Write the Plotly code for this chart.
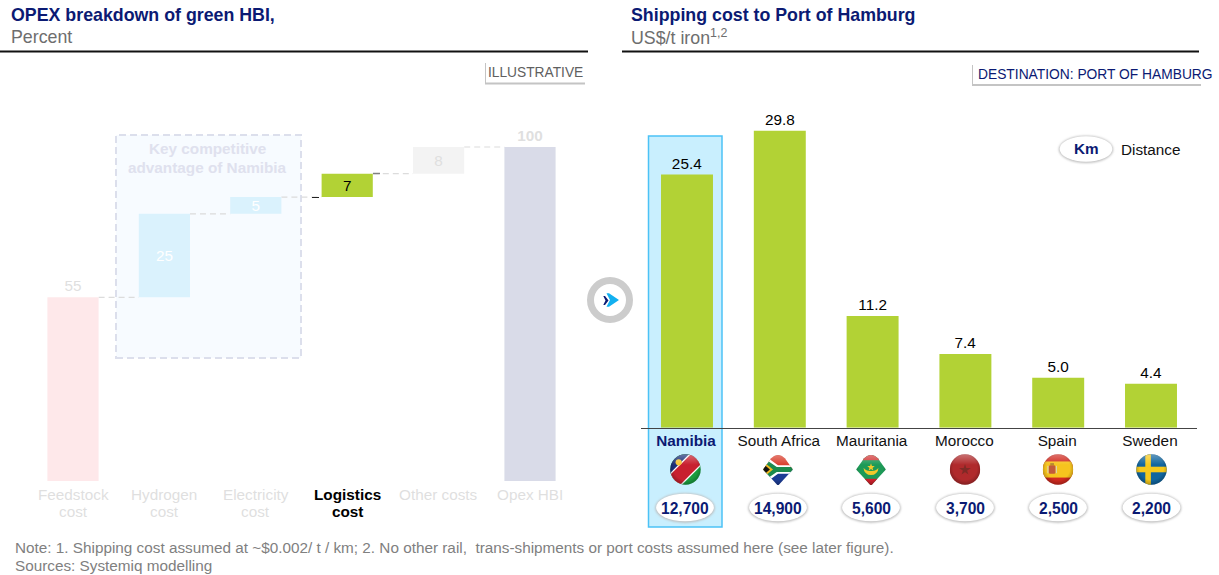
import base64
import plotly.graph_objects as go

W, H = 1219, 575
FONT = "Liberation Sans"
NAVY = "#0b1a73"
GREEN = "#b2d235"
FADED = "#dfdfdf"

# OPEX waterfall
opex_categories = ["Feedstock<br>cost", "Hydrogen<br>cost", "Electricity<br>cost",
                   "Logistics<br>cost", "Other costs", "Opex HBI"]
opex_values = [55, 25, 5, 7, 8, 100]
opex_colors = ["#fee8ea", "#daf2fd", "#daf2fd", GREEN, "#f3f3f3", "#d9dbe8"]

# Shipping cost bars
ship_countries = ["Namibia", "South Africa", "Mauritania", "Morocco", "Spain", "Sweden"]
ship_costs = [25.4, 29.8, 11.2, 7.4, 5.0, 4.4]
ship_distance = ["12,700", "14,900", "5,600", "3,700", "2,500", "2,200"]


def fx(p):
    return p / W


def fy(p):
    return 1 - p / H


def to_uri(svg):
    return "data:image/svg+xml;base64," + base64.b64encode(svg.encode()).decode()


GLOSS = """<defs>
<radialGradient id="g" cx="50%" cy="45%" r="55%">
<stop offset="70%" stop-color="#000" stop-opacity="0"/>
<stop offset="100%" stop-color="#000" stop-opacity=".28"/></radialGradient>
<linearGradient id="t" x1="0" y1="0" x2="0" y2="1">
<stop offset="0" stop-color="#fff" stop-opacity=".35"/>
<stop offset=".35" stop-color="#fff" stop-opacity="0"/></linearGradient>
<clipPath id="c">__CLIP__</clipPath></defs>"""
CIRCLE = '<circle cx="50" cy="50" r="49"/>'
DIAMOND = '<path d="M2 50 L28 14 Q50 -8 72 14 L98 50 L52 100 L48 100 Z"/>'


def flag(body, clip=CIRCLE):
    defs = GLOSS.replace("__CLIP__", clip)
    overlay = '<rect width="100" height="100" fill="url(#g)"/><rect width="100" height="100" fill="url(#t)"/>'
    return to_uri(f'<svg xmlns="http://www.w3.org/2000/svg" width="200" height="200" viewBox="0 0 100 100">'
                  f'{defs}<g clip-path="url(#c)">{body}{overlay}</g></svg>')


flags = [
    # Namibia
    flag('<rect width="100" height="100" fill="#1a9c3e"/>'
         '<path d="M0 0H100L0 100Z" fill="#1c2f78"/>'
         '<path d="M100 0 L100 38 L38 100 L0 100 L0 62 L62 0Z" fill="#fff"/>'
         '<path d="M100 8 L100 32 L32 100 L8 100 L0 92 L0 68 L68 0 L92 0Z" fill="#c8202f"/>'
         '<circle cx="28" cy="27" r="10" fill="#f7c531"/>'),
    # South Africa
    flag('<rect width="100" height="50" fill="#d9402f"/><rect y="50" width="100" height="50" fill="#1c3c94"/>'
         '<path d="M0 0 L50 36 H100 V64 H50 L0 100Z" fill="#fff"/>'
         '<path d="M0 10 L46 42 H100 V58 H46 L0 90Z" fill="#1b8a4d"/>'
         '<path d="M0 22 L34 50 L0 78Z" fill="#f2b822"/><path d="M0 30 L24 50 L0 70Z" fill="#111"/>', DIAMOND),
    # Mauritania
    flag('<rect width="100" height="100" fill="#1d9a57"/>'
         '<rect width="100" height="20" fill="#d23a3a"/><rect y="80" width="100" height="20" fill="#d0202c"/>'
         '<path d="M26 44 A24 24 0 0 0 74 44 A26 18 0 0 1 26 44Z" fill="#f2c92a"/>'
         '<path d="M50 30 L53 39 L62 39 L55 45 L58 54 L50 48 L42 54 L45 45 L38 39 L47 39Z" fill="#f2c92a"/>', DIAMOND),
    # Morocco
    flag('<rect width="100" height="100" fill="#b02a2c"/>'
         '<path d="M50 32 L61 66 L31 45 H69 L39 66Z" fill="#7f2a26"/>'),
    # Spain
    flag('<rect width="100" height="100" fill="#d12a20"/><rect y="24" width="100" height="52" fill="#f6c41e"/>'
         '<rect x="20" y="36" width="22" height="28" rx="5" fill="#c25a3a"/>'
         '<rect x="25" y="29" width="12" height="7" fill="#b98a2a"/>'
         '<rect x="16" y="38" width="3" height="24" fill="#d9d9d0"/><rect x="43" y="38" width="3" height="24" fill="#d9d9d0"/>'),
    # Sweden
    flag('<rect width="100" height="100" fill="#11659f"/>'
         '<rect x="30" width="18" height="100" fill="#f6c91c"/><rect y="41" width="100" height="18" fill="#f6c91c"/>'),
]

ELLIPSE = to_uri(
    '<svg xmlns="http://www.w3.org/2000/svg" width="160" height="90" viewBox="0 0 80 45">'
    '<defs><filter id="b" x="-20%" y="-30%" width="140%" height="160%"><feGaussianBlur stdDeviation="1.5"/></filter></defs>'
    '<ellipse cx="40" cy="23" rx="34" ry="17" fill="#bdbdbd" filter="url(#b)"/>'
    '<ellipse cx="40" cy="22.5" rx="33" ry="16" fill="#fff"/></svg>')

fig = go.Figure()

# Waterfall panel: each step sits on the running total, the last bar is the total
positions = list(range(len(opex_values)))
bases, running = [], 0
for v in opex_values[:-1]:
    bases.append(running)
    running += v
bases.append(0)
fig.add_trace(go.Bar(
    x=positions, y=opex_values, base=bases, width=0.56,
    marker=dict(color=opex_colors, line_width=0),
    text=[str(v) for v in opex_values[:-1]] + [f"<b>{opex_values[-1]}</b>"],
    textposition=["outside", "inside", "inside", "inside", "inside", "outside"],
    insidetextanchor="middle", constraintext="none", textangle=0, cliponaxis=False,
    textfont=dict(family=FONT, size=15.3, color=[FADED, "#ffffff", "#ffffff", "#000000", FADED, FADED]),
    xaxis="x", yaxis="y", hoverinfo="skip", showlegend=False))

# Shipping panel
ship_positions = list(range(len(ship_costs)))
fig.add_trace(go.Bar(
    x=ship_positions, y=ship_costs, width=0.56,
    marker=dict(color=GREEN, line_width=0),
    text=[f"{v:.1f}" for v in ship_costs], textposition="outside",
    constraintext="none", textangle=0, cliponaxis=False,
    textfont=dict(family=FONT, size=15.3, color="#000000"),
    xaxis="x2", yaxis="y2", hoverinfo="skip", showlegend=False))

shapes, annotations, images = [], [], []


def rect(x0, y0, x1, y1, fill, line=None, width=1, dash="solid", layer="below"):
    shapes.append(dict(type="rect", xref="paper", yref="paper", x0=fx(x0), x1=fx(x1), y0=fy(y1), y1=fy(y0),
                       fillcolor=fill, line=dict(color=line or "rgba(0,0,0,0)", width=width if line else 0, dash=dash),
                       layer=layer))


def hline(x0, x1, y, color, width=1, dash="solid", layer="above"):
    shapes.append(dict(type="line", xref="paper", yref="paper", x0=fx(x0), x1=fx(x1), y0=fy(y), y1=fy(y),
                       line=dict(color=color, width=width, dash=dash), layer=layer))


def vline(x, y0, y1, color, width=1):
    shapes.append(dict(type="line", xref="paper", yref="paper", x0=fx(x), x1=fx(x), y0=fy(y0), y1=fy(y1),
                       line=dict(color=color, width=width)))


def text(x, y, s, size, color, anchor="left", bold=False, valign="middle"):
    annotations.append(dict(xref="paper", yref="paper", x=fx(x), y=fy(y), text=f"<b>{s}</b>" if bold else s,
                            showarrow=False, xanchor=anchor, yanchor=valign,
                            font=dict(family=FONT, size=size, color=color), borderpad=0))


def img(src, cx, cy, w, h):
    images.append(dict(source=src, xref="paper", yref="paper", x=fx(cx - w / 2), y=fy(cy - h / 2),
                       sizex=w / W, sizey=h / H, xanchor="left", yanchor="top", sizing="stretch", layer="above"))


# Highlight behind the first shipping bar and the competitive-advantage box
rect(648.5, 136, 722, 527, "#c9effe", "#4cc2f6", 1.5)
rect(116, 135, 301, 358, "#f7fbff", "#dcdfec", 2, "7px,4px")
text(207, 149, "Key competitive", 15.3, "#dfe1ee", "center", True)
text(207, 167, "advantage of Namibia", 15.3, "#dfe1ee", "center", True)

# Waterfall connectors at the running total of each step
level = 0
for i, v in enumerate(opex_values[:-1]):
    level += v
    shapes.append(dict(type="line", xref="x", yref="y", x0=i + 0.28, x1=i + 0.72, y0=level, y1=level,
                       line=dict(color="#dcdcdc", width=1.2, dash="6px,4px"), layer="below"))
hline(312, 319, 197.5, "#222222", 1)
hline(373, 380, 173.5, "#808080", 1.5)

# Section headers
text(10, 15, "OPEX breakdown of green HBI,", 17.8, NAVY, bold=True)
text(10, 37.5, "Percent", 17.8, "#6e6e6e")
hline(0, 588, 51.5, "#111111", 2)
text(630, 15, "Shipping cost to Port of Hamburg", 17.8, NAVY, bold=True)
text(630, 37.5, 'US$/t iron<sup>1,2</sup>', 17.8, "#6e6e6e")
hline(622, 1199, 51.5, "#111111", 2)

# Corner tags
text(487, 72, "ILLUSTRATIVE", 13.75, "#606060")
vline(485.5, 63, 84, "#c4c4c4", 1)
hline(485, 585, 83.5, "#c4c4c4", 2)
text(976.5, 74.5, "DESTINATION: PORT OF HAMBURG", 13.8, NAVY)
vline(972.5, 65, 85, "#c4c4c4", 1)
hline(972, 1201, 85, "#c4c4c4", 2)

# Arrow badge between the panels
shapes.append(dict(type="circle", xref="paper", yref="paper", x0=fx(590.5), x1=fx(629.5), y0=fy(319.5), y1=fy(280.5),
                   fillcolor="#ffffff", line=dict(color="#cccccc", width=7)))


def poly(points, color):
    d = "M" + " L".join(f"{fx(x):.5f} {fy(y):.5f}" for x, y in points) + " Z"
    shapes.append(dict(type="path", xref="paper", yref="paper", path=d, fillcolor=color, line_width=0))


poly([(603.3, 296), (605, 296), (608.5, 300.5), (605, 305), (603.3, 305), (605.5, 300.5)], NAVY)
poly([(606.5, 293.3), (609, 293.3), (619, 300), (609, 306.7), (606.5, 306.7), (610, 300)], "#12b0f0")

# Distance legend
img(ELLIPSE, 1086, 149, 64, 36)
text(1086, 149, "Km", 15.3, NAVY, "center", True)
text(1120, 149.5, "Distance", 15.3, "#111111")

# Flags and distance ovals under each country
flag_x = [685.5, 778, 871, 965, 1058, 1151.5]
oval_x = [685, 778, 871, 965, 1058, 1151.5]
for fx_c, ox, dist, src in zip(flag_x, oval_x, ship_distance, flags):
    img(src, fx_c, 469.5, 31, 31)
    img(ELLIPSE, ox, 507.5, 70, 39)
    text(ox, 508, dist, 15.6, NAVY, "center", True)

# Footnotes
text(14, 547.5, "Note: 1. Shipping cost assumed at ~$0.002/ t / km; 2. No other rail,  trans-shipments or port costs assumed here (see later figure).", 15.3, "#808080")
text(14, 565.5, "Sources: Systemiq modelling", 15.3, "#808080")

# Waterfall category labels, one annotation per line for tight leading
for pos, category in zip(positions, opex_categories):
    for row, line_text in enumerate(category.split("<br>")):
        is_logistics = pos == 3
        annotations.append(dict(
            xref="x", yref="paper", x=pos, y=fy(494.5 + 17 * row),
            text=f"<b>{line_text}</b>" if is_logistics else line_text,
            showarrow=False, xanchor="center", yanchor="middle",
            font=dict(family=FONT, size=15.3, color="#000000" if is_logistics else FADED)))

ship_ticks = [f'<b><span style="color:{NAVY}">{ship_countries[0]}</span></b>'] + ship_countries[1:]

# Axis domains place category centres and value scales on the panel layout
x1_left, x1_right = 73 - 91.4 / 2, 73 + 91.4 * 5.5
x2_left, x2_right = 640.6, 1197.4
y1_top, y1_base = 110, 481
y2_top, y2_base = 100, 427.7

hidden_y = dict(showgrid=False, zeroline=False, showticklabels=False, ticks="")
fig.update_layout(
    width=W, height=H, margin=dict(l=0, r=0, t=0, b=0), paper_bgcolor="#ffffff", plot_bgcolor="rgba(0,0,0,0)",
    showlegend=False, barmode="overlay", font=dict(family=FONT),
    xaxis=dict(domain=[fx(x1_left), fx(x1_right)], range=[-0.5, 5.5], showticklabels=False,
               showgrid=False, zeroline=False, showline=False, ticks="", fixedrange=True),
    yaxis=dict(domain=[fy(y1_base), fy(y1_top)], range=[0, (y1_base - y1_top) / 3.34], fixedrange=True, **hidden_y),
    xaxis2=dict(domain=[fx(x2_left), fx(x2_right)], range=[-0.5, 5.5], tickvals=ship_positions, ticktext=ship_ticks,
                anchor="y2", showgrid=False, zeroline=False, showline=True, linecolor="#444444", linewidth=1.2,
                ticks="", ticklabelshift=-1, ticklabelstandoff=-1,
                tickfont=dict(family=FONT, size=15.3, color="#111111"), fixedrange=True),
    yaxis2=dict(domain=[fy(y2_base), fy(y2_top)], range=[0, (y2_base - y2_top) / 9.966], anchor="x2",
                fixedrange=True, **hidden_y),
    shapes=shapes, annotations=annotations, images=images,
)

fig.write_html("out.html", config=dict(displayModeBar=False))
